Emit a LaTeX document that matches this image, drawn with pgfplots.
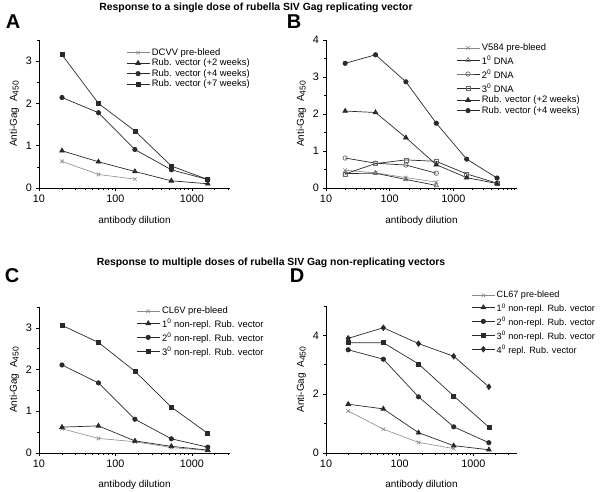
\documentclass[border=0pt]{standalone}
\usepackage{fontspec}
\setmainfont{Liberation Sans}
\usepackage{pgfplots}
\pgfplotsset{compat=1.18}
\definecolor{ln}{HTML}{2A2A2A}
\definecolor{pb}{HTML}{8A8A8A}
\definecolor{om}{HTML}{6A6A6A}
\newcommand\sx[1]{\textsuperscript{#1}\rule[-2.2pt]{0pt}{12.4pt}}
\pgfplotsset{
  legend image code/.code={\draw[mark repeat=2,mark phase=2,#1] plot coordinates {(0pt,0pt) (11.5pt,0pt) (23pt,0pt)};},
  mypanel/.style={
    scale only axis,
    axis lines*=left, tick align=outside,
    xtick={10,100,1000}, xticklabels={10,100,1000},
    minor xtick={20,30,40,50,60,70,80,90,200,300,400,500,600,700,800,900,2000,3000,4000,5000,6000,7000,8000,9000},
    /pgf/number format/assume math mode=true,
    tick label style={font=\fontsize{10.8}{12}\selectfont},
    label style={font=\fontsize{10.8}{12}\selectfont},
    xlabel={antibody dilution},
    ylabel={Anti-Gag\ \ A\raisebox{-0.35ex}{\fontsize{8.5}{10}\selectfont 450}},
    every axis x label/.style={at={(axis description cs:0.5,-0.22)}, anchor=center},
    every axis y label/.style={at={(axis description cs:-0.13,0.5)}, rotate=90, anchor=center},
    legend style={draw=none, fill=none, font=\fontsize{9.4}{11}\selectfont, anchor=north west,
      cells={anchor=west}, nodes={inner ysep=0.8pt, inner xsep=2pt}, row sep=0.6pt},
    legend cell align=left,
    every axis plot/.append style={line width=0.7pt, color=ln, mark size=2.3pt},
    major tick length=3.5pt, minor tick length=2pt,
    tick style={color=black, line width=0.6pt},
    axis line style={line width=0.8pt, color=black},
    xmin=10, ymin=0, clip=false,
  },
  pre/.style={color=pb, mark=x, mark size=2.6pt, line width=0.6pt},
  tri/.style={mark=triangle*, mark size=2.7pt},
  cir/.style={mark=*, mark size=2.2pt},
  sqr/.style={mark=square*, mark size=2.0pt},
  dia/.style={mark=diamond*, mark size=2.8pt},
  otri/.style={mark=triangle, mark size=2.6pt, mark options={fill=white, draw=om}},
  ocir/.style={mark=o, mark size=2.2pt, mark options={fill=white, draw=om}},
  osqr/.style={mark=square, mark size=2.0pt, mark options={fill=white, draw=om}},
}
\begin{document}
\begin{tikzpicture}[x=1pt,y=1pt]
\useasboundingbox (0pt,0pt) rectangle (600pt,492pt);
\node[font=\bfseries\fontsize{10.4}{12}\selectfont] at (256pt,484pt) {Response to a single dose of rubella SIV Gag replicating vector};
\node[font=\bfseries\fontsize{10.4}{12}\selectfont] at (271pt,229pt) {Response to multiple doses of rubella SIV Gag non-replicating vectors};
\node[font=\bfseries\fontsize{20}{22}\selectfont] at (13pt,470pt) {A};
\node[font=\bfseries\fontsize{20}{22}\selectfont] at (294pt,470pt) {B};
\node[font=\bfseries\fontsize{20}{22}\selectfont] at (12pt,216pt) {C};
\node[font=\bfseries\fontsize{20}{22}\selectfont] at (297pt,216pt) {D};

% Panel A
\begin{semilogxaxis}[mypanel, at={(39pt,304pt)}, anchor=south west, width=191pt, height=148pt,
  xmax=3162, ymax=3.5, ytick={0,1,2,3}, minor ytick={0.5,1.5,2.5,3.5},
  legend style={at={(axis description cs:0.44,0.963)}}]
\addplot[pre] coordinates {(20,0.63)(60,0.32)(180,0.21)};
\addlegendentry{DCVV pre-bleed}
\addplot[tri] coordinates {(20,0.88)(60,0.62)(180,0.39)(540,0.17)(1620,0.10)};
\addlegendentry{Rub. vector (+2 weeks)}
\addplot[cir] coordinates {(20,2.14)(60,1.78)(180,0.91)(540,0.43)(1620,0.20)};
\addlegendentry{Rub. vector (+4 weeks)}
\addplot[sqr] coordinates {(20,3.15)(60,2.00)(180,1.35)(540,0.52)(1620,0.20)};
\addlegendentry{Rub. vector (+7 weeks)}
\end{semilogxaxis}

% Panel B
\begin{semilogxaxis}[mypanel, at={(326pt,304pt)}, anchor=south west, width=191pt, height=148pt,
  xmax=10000, ymax=4, ytick={0,1,2,3,4}, minor ytick={0.5,1.5,2.5,3.5},
  legend style={at={(axis description cs:0.665,0.995)}}]
\addplot[pre] coordinates {(20,0.48)(60,0.41)(180,0.28)(540,0.16)};
\addlegendentry{V584 pre-bleed}
\addplot[otri] coordinates {(20,0.39)(60,0.40)(180,0.23)(540,0.07)};
\addlegendentry{1\sx{0} DNA}
\addplot[ocir] coordinates {(20,0.81)(60,0.67)(180,0.62)(540,0.40)};
\addlegendentry{2\sx{0} DNA}
\addplot[osqr] coordinates {(20,0.38)(60,0.66)(180,0.76)(540,0.72)(1620,0.38)(4860,0.13)};
\addlegendentry{3\sx{0} DNA}
\addplot[tri] coordinates {(20,2.08)(60,2.04)(180,1.36)(540,0.63)(1620,0.28)(4860,0.12)};
\addlegendentry{Rub. vector (+2 weeks)}
\addplot[cir] coordinates {(20,3.37)(60,3.60)(180,2.87)(540,1.75)(1620,0.78)(4860,0.27)};
\addlegendentry{Rub. vector (+4 weeks)}
\end{semilogxaxis}

% Panel C
\begin{semilogxaxis}[mypanel, at={(39pt,39pt)}, anchor=south west, width=191pt, height=146pt,
  xmax=3162, ymax=3.5, ytick={0,1,2,3}, minor ytick={0.5,1.5,2.5,3.5},
  legend style={at={(axis description cs:0.493,1.02)}}]
\addplot[pre] coordinates {(20,0.58)(60,0.35)(180,0.27)(540,0.13)(1620,0.06)};
\addlegendentry{CL6V pre-bleed}
\addplot[tri] coordinates {(20,0.62)(60,0.65)(180,0.29)(540,0.16)(1620,0.07)};
\addlegendentry{1\sx{0} non-repl. Rub. vector}
\addplot[cir] coordinates {(20,2.11)(60,1.68)(180,0.81)(540,0.34)(1620,0.14)};
\addlegendentry{2\sx{0} non-repl. Rub. vector}
\addplot[sqr] coordinates {(20,3.06)(60,2.65)(180,1.96)(540,1.10)(1620,0.47)};
\addlegendentry{3\sx{0} non-repl. Rub. vector}
\end{semilogxaxis}

% Panel D
\begin{semilogxaxis}[mypanel, at={(326pt,39pt)}, anchor=south west, width=191pt, height=147pt,
  xmax=3900, ymax=5, ytick={0,2,4}, minor ytick={1,3,5},
  legend style={at={(axis description cs:0.745,1.12)}, font=\fontsize{9.1}{11}\selectfont, nodes={inner xsep=1.5pt}}]
\addplot[pre] coordinates {(20,1.43)(60,0.81)(180,0.36)(540,0.15)};
\addlegendentry{CL67 pre-bleed}
\addplot[tri] coordinates {(20,1.66)(60,1.50)(180,0.69)(540,0.25)(1620,0.11)};
\addlegendentry{1\sx{0} non-repl. Rub. vector}
\addplot[cir] coordinates {(20,3.51)(60,3.19)(180,1.91)(540,0.89)(1620,0.35)};
\addlegendentry{2\sx{0} non-repl. Rub. vector}
\addplot[sqr] coordinates {(20,3.75)(60,3.75)(180,3.03)(540,1.94)(1620,0.88)};
\addlegendentry{3\sx{0} non-repl. Rub. vector}
\addplot[dia] coordinates {(20,3.90)(60,4.26)(180,3.72)(540,3.29)(1620,2.25)};
\addlegendentry{4\sx{0} repl. Rub. vector}
\end{semilogxaxis}
\end{tikzpicture}
\end{document}
